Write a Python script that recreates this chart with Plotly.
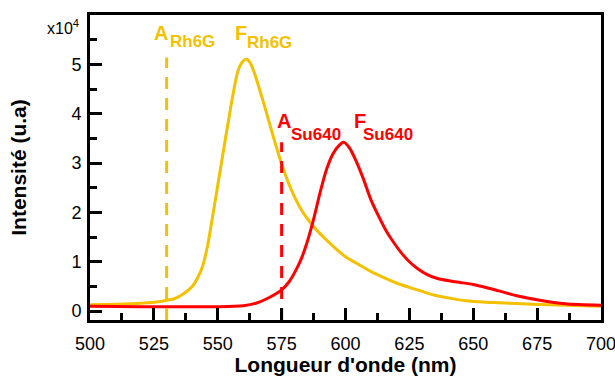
import plotly.graph_objects as go

# Emission spectra (intensity in units of 1e4)
rh6g_nm = [500, 510, 520, 527, 531, 533, 536, 540, 542, 544, 546, 548, 550, 552, 554,
           556, 558, 560, 561.5, 563, 565, 567.5, 570, 572.5, 575, 577.5, 580, 583,
           586.6, 590, 594, 600, 605, 610, 615, 620, 625, 630, 635, 640, 647, 655,
           660, 673, 686, 700]
rh6g_int = [0.13, 0.14, 0.16, 0.19, 0.23, 0.25, 0.33, 0.50, 0.66, 0.90, 1.32, 1.92, 2.55,
            3.18, 3.80, 4.40, 4.88, 5.07, 5.10, 5.00, 4.72, 4.30, 3.85, 3.40, 2.98, 2.62,
            2.32, 2.03, 1.77, 1.57, 1.37, 1.10, 0.95, 0.80, 0.68, 0.57, 0.48, 0.40, 0.32,
            0.27, 0.21, 0.18, 0.17, 0.14, 0.12, 0.10]

su640_nm = [500, 520, 540, 550, 560, 565, 570, 575, 578, 581, 583, 585, 587.5, 590,
            592.5, 595, 597.5, 599.3, 601.5, 604, 607, 610, 613, 616, 619, 622, 625,
            628, 632, 636, 641, 645, 650, 655, 660, 667, 676, 686, 700]
su640_int = [0.10, 0.09, 0.09, 0.09, 0.11, 0.16, 0.27, 0.43, 0.60, 0.87, 1.10, 1.40, 1.86,
             2.39, 2.86, 3.18, 3.36, 3.42, 3.31, 3.06, 2.68, 2.25, 1.92, 1.62, 1.38, 1.17,
             1.00, 0.87, 0.74, 0.66, 0.61, 0.58, 0.54, 0.48, 0.41, 0.31, 0.22, 0.15, 0.12]

# Absorption wavelengths marked by dashed lines
abs_rh6g_nm = 530
abs_su640_nm = 575

x_ticks = [500, 525, 550, 575, 600, 625, 650, 675, 700]
y_ticks = [0, 1, 2, 3, 4, 5]

YELLOW = "#F3C100"
RED = "#FF0000"
FONT = "Liberation Sans, Arial, sans-serif"
Y_MIN, Y_MAX = -0.18, 6.0

fig = go.Figure()
fig.add_trace(go.Scatter(x=rh6g_nm, y=rh6g_int, mode="lines",
                         line=dict(color=YELLOW, width=3, shape="spline", smoothing=0.8)))
fig.add_trace(go.Scatter(x=su640_nm, y=su640_int, mode="lines",
                         line=dict(color=RED, width=3, shape="spline", smoothing=0.8)))

# dashed absorption markers
fig.add_trace(go.Scatter(x=[abs_rh6g_nm, abs_rh6g_nm], y=[Y_MIN, 5.14], mode="lines",
                         line=dict(color=YELLOW, width=3, dash="12px,9px")))
fig.add_trace(go.Scatter(x=[abs_su640_nm, abs_su640_nm], y=[Y_MIN, 3.42], mode="lines",
                         line=dict(color=RED, width=3, dash="12px,9px")))

# labels: main letter + subscript (x of letter left edge, y of letter centre)
labels = [
    ("A", "Rh6G", YELLOW, 524.1, 5.64, 530.4, 5.46),
    ("F", "Rh6G", YELLOW, 555.8, 5.64, 560.5, 5.44),
    ("A", "Su640", RED, 572.6, 3.86, 577.7, 3.58),
    ("F", "Su640", RED, 602.4, 3.86, 605.9, 3.58),
]
for main, sub, col, xm, ym, xs, ys in labels:
    fig.add_annotation(x=xm, y=ym, text=main, showarrow=False, xanchor="left", yanchor="middle",
                       font=dict(family=FONT, size=20, color=col, weight="bold"))
    fig.add_annotation(x=xs, y=ys, text=sub, showarrow=False, xanchor="left", yanchor="middle",
                       font=dict(family=FONT, size=17, color=col, weight="bold"))

# axis multiplier
fig.add_annotation(xref="paper", yref="paper", x=-0.018, y=0.96, xanchor="right", yanchor="middle",
                   text="x10<sup>4</sup>", showarrow=False,
                   font=dict(family=FONT, size=16, color="black"))

axis_common = dict(
    showline=True, linewidth=3, linecolor="black", mirror=True,
    ticks="inside", ticklen=12, tickwidth=2.5, tickcolor="black",
    showgrid=False, zeroline=False, ticklabeloverflow="allow",
    tickfont=dict(family=FONT, size=18, color="black"),
)
fig.update_xaxes(range=[500, 700], tickvals=x_ticks, ticktext=[str(v) for v in x_ticks],
                 ticklabelstandoff=5,
                 minor=dict(ticks="inside", ticklen=7, tickwidth=2.5, tickcolor="black", dtick=12.5, tick0=500),
                 title=dict(text="Longueur d'onde (nm)", standoff=12,
                            font=dict(family=FONT, size=21, color="black", weight="bold")),
                 **axis_common)
fig.update_yaxes(range=[Y_MIN, Y_MAX], tickvals=y_ticks, ticktext=[str(v) for v in y_ticks],
                 ticklabelstandoff=2,
                 minor=dict(ticks="inside", ticklen=7, tickwidth=2.5, tickcolor="black", dtick=0.5, tick0=0),
                 title=dict(text="Intensité (u.a)", standoff=40,
                            font=dict(family=FONT, size=21, color="black", weight="bold")),
                 **axis_common)

fig.update_layout(width=615, height=376, margin=dict(l=90, r=14, t=15, b=56, autoexpand=False),
                  plot_bgcolor="white", paper_bgcolor="white", showlegend=False)

fig.write_html("out.html")
